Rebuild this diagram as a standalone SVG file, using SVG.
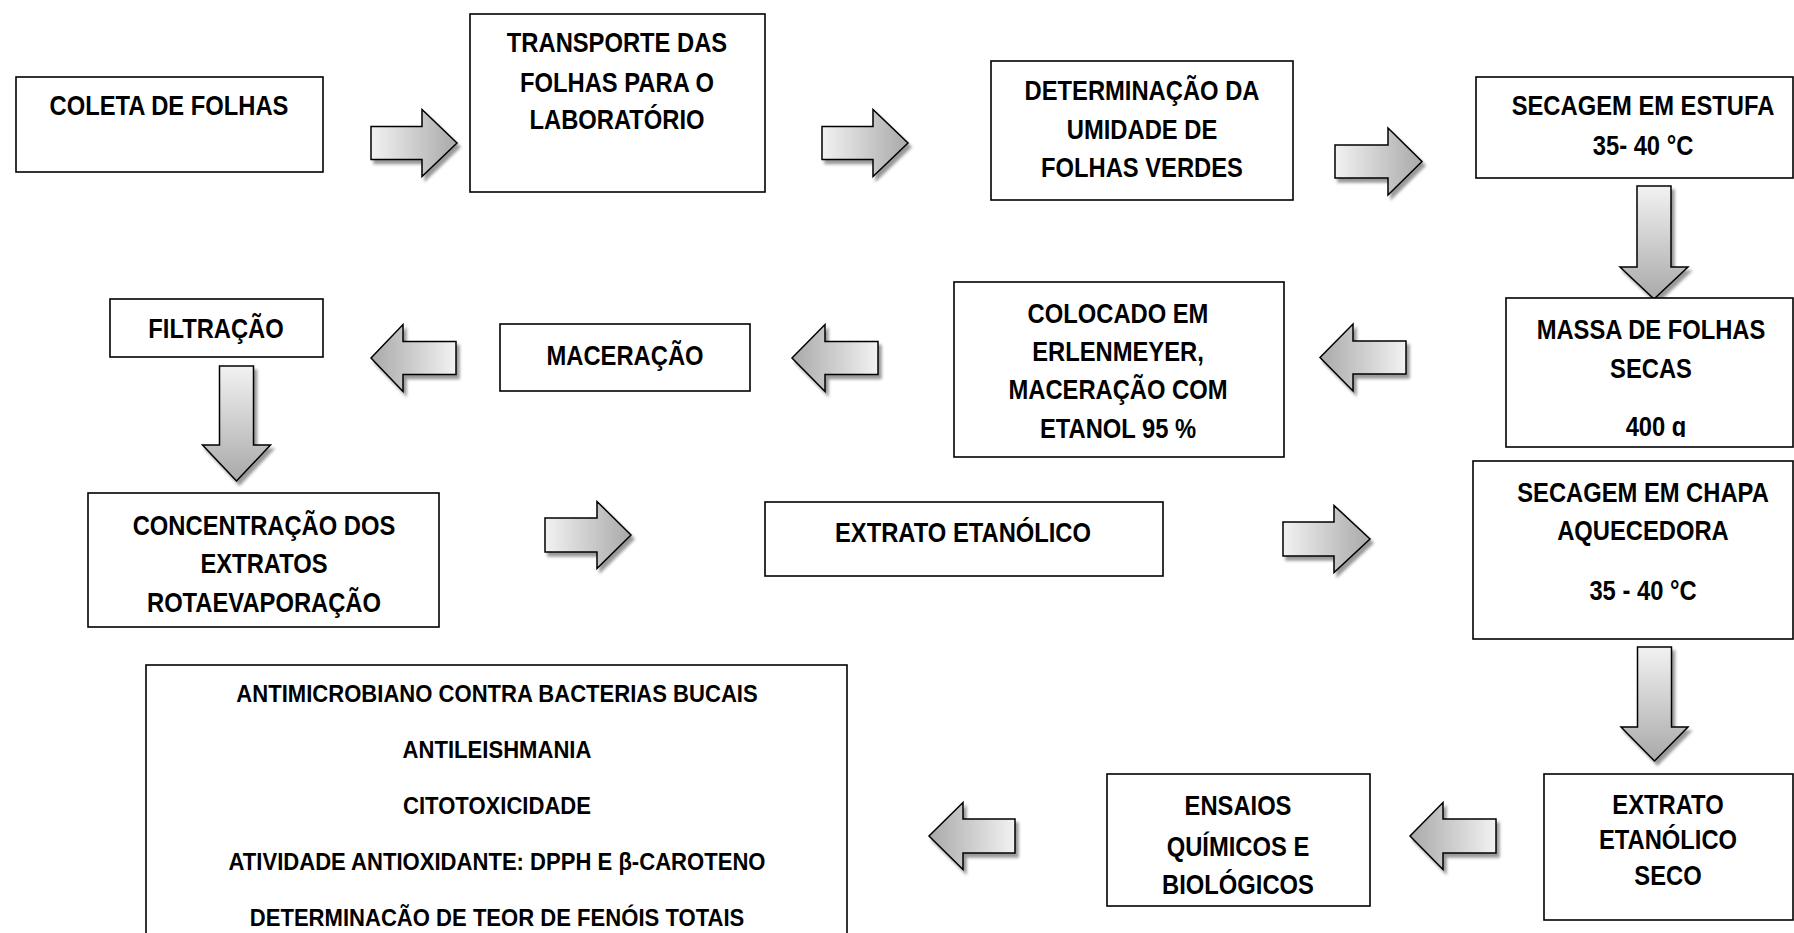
<svg xmlns="http://www.w3.org/2000/svg" width="1794" height="933" viewBox="0 0 1794 933">
<style>
.box{fill:#fff;stroke:#000;stroke-width:1.6}
.t{font-family:"Liberation Sans",Arial,sans-serif;font-weight:bold;font-size:27px;fill:#000;text-anchor:middle}
.s{font-size:24px}
.ar{stroke:#000;stroke-width:1.5;filter:url(#sh)}
.r{fill:url(#gR)}
.l{fill:url(#gL)}
.d{fill:url(#gD)}
</style>
<defs>
<linearGradient id="gR" x1="0" y1="0" x2="1" y2="0"><stop offset="0" stop-color="#f2f2f2"/><stop offset="1" stop-color="#a9a9a9"/></linearGradient>
<linearGradient id="gL" x1="1" y1="0" x2="0" y2="0"><stop offset="0" stop-color="#f2f2f2"/><stop offset="1" stop-color="#a9a9a9"/></linearGradient>
<linearGradient id="gD" x1="0" y1="0" x2="0" y2="1"><stop offset="0" stop-color="#f2f2f2"/><stop offset="1" stop-color="#a9a9a9"/></linearGradient>
<filter id="sh" x="-20%" y="-20%" width="150%" height="150%"><feDropShadow dx="3" dy="4" stdDeviation="1.5" flood-color="#000" flood-opacity="0.4"/></filter>
<clipPath id="clip400"><rect x="1506" y="298" width="288" height="139"/></clipPath>
</defs>
<rect width="1794" height="933" fill="#fff"/>

<g id="connectors">
<path class="ar r" d="M371,126.5 L422,126.5 L422,109.5 L457,143 L422,176.5 L422,159.5 L371,159.5 Z"/>
<path class="ar r" d="M822,126.5 L873,126.5 L873,109.5 L908,143 L873,176.5 L873,159.5 L822,159.5 Z"/>
<path class="ar r" d="M1335,145 L1388,145 L1388,128 L1422,161.5 L1388,195 L1388,178 L1335,178 Z"/>
<path class="ar d" d="M1637,186 L1671,186 L1671,267 L1688,267 L1654,299 L1620,267 L1637,267 Z"/>
<path class="ar l" d="M1406,341 L1353,341 L1353,324 L1320,357.5 L1353,391 L1353,374 L1406,374 Z"/>
<path class="ar l" d="M878,341.5 L825,341.5 L825,324.5 L792,358 L825,391.5 L825,374.5 L878,374.5 Z"/>
<path class="ar l" d="M456,341.5 L403,341.5 L403,324.5 L371,358 L403,391.5 L403,374.5 L456,374.5 Z"/>
<path class="ar d" d="M219.5,366 L253.5,366 L253.5,445 L270.5,445 L236.5,481 L202.5,445 L219.5,445 Z"/>
<path class="ar r" d="M545,518 L597,518 L597,501.5 L631,535 L597,568.5 L597,552 L545,552 Z"/>
<path class="ar r" d="M1283,522 L1334,522 L1334,505.5 L1370,539 L1334,572.5 L1334,556 L1283,556 Z"/>
<path class="ar d" d="M1637.5,647 L1671.5,647 L1671.5,727 L1688,727 L1654.5,761 L1621,727 L1637.5,727 Z"/>
<path class="ar l" d="M1496,819 L1443,819 L1443,802.5 L1410,836 L1443,869.5 L1443,853 L1496,853 Z"/>
<path class="ar l" d="M1015,819 L963,819 L963,802.5 L929,836 L963,869.5 L963,853 L1015,853 Z"/>
</g>

<g id="n1"><rect class="box" x="16" y="77" width="307" height="95"/>
<text class="t" transform="translate(169 115) scale(0.88 1)">COLETA DE FOLHAS</text></g>

<g id="n2"><rect class="box" x="470" y="14" width="295" height="178"/>
<text class="t" transform="translate(617 52) scale(0.88 1)">TRANSPORTE DAS</text>
<text class="t" transform="translate(617 92) scale(0.88 1)">FOLHAS PARA O</text>
<text class="t" transform="translate(617 129) scale(0.88 1)">LABORATÓRIO</text></g>

<g id="n3"><rect class="box" x="991" y="61" width="302" height="139"/>
<text class="t" transform="translate(1142 100) scale(0.88 1)">DETERMINAÇÃO DA</text>
<text class="t" transform="translate(1142 139) scale(0.88 1)">UMIDADE DE</text>
<text class="t" transform="translate(1142 177) scale(0.88 1)">FOLHAS VERDES</text></g>

<g id="n4"><rect class="box" x="1476" y="77" width="317" height="101"/>
<text class="t" transform="translate(1643 115) scale(0.88 1)">SECAGEM EM ESTUFA</text>
<text class="t" transform="translate(1643 155) scale(0.88 1)">35- 40 °C</text></g>

<g id="n5"><rect class="box" x="1506" y="298" width="287" height="149"/>
<text class="t" transform="translate(1651 339) scale(0.88 1)">MASSA DE FOLHAS</text>
<text class="t" transform="translate(1651 378) scale(0.88 1)">SECAS</text>
<g clip-path="url(#clip400)"><text class="t" transform="translate(1656 436) scale(0.88 1)">400 g</text></g></g>

<g id="n6"><rect class="box" x="954" y="282" width="330" height="175"/>
<text class="t" transform="translate(1118 323) scale(0.88 1)">COLOCADO EM</text>
<text class="t" transform="translate(1118 361) scale(0.88 1)">ERLENMEYER,</text>
<text class="t" transform="translate(1118 399) scale(0.88 1)">MACERAÇÃO COM</text>
<text class="t" transform="translate(1118 438) scale(0.88 1)">ETANOL 95 %</text></g>

<g id="n7"><rect class="box" x="500" y="324" width="250" height="67"/>
<text class="t" transform="translate(625 365) scale(0.88 1)">MACERAÇÃO</text></g>

<g id="n8"><rect class="box" x="110" y="299" width="213" height="58"/>
<text class="t" transform="translate(216 338) scale(0.88 1)">FILTRAÇÃO</text></g>

<g id="n9"><rect class="box" x="88" y="493" width="351" height="134"/>
<text class="t" transform="translate(264 535) scale(0.88 1)">CONCENTRAÇÃO DOS</text>
<text class="t" transform="translate(264 573) scale(0.88 1)">EXTRATOS</text>
<text class="t" transform="translate(264 612) scale(0.88 1)">ROTAEVAPORAÇÃO</text></g>

<g id="n10"><rect class="box" x="765" y="502" width="398" height="74"/>
<text class="t" transform="translate(963 542) scale(0.88 1)">EXTRATO ETANÓLICO</text></g>

<g id="n11"><rect class="box" x="1473" y="461" width="320" height="178"/>
<text class="t" transform="translate(1643 502) scale(0.88 1)">SECAGEM EM CHAPA</text>
<text class="t" transform="translate(1643 540) scale(0.88 1)">AQUECEDORA</text>
<text class="t" transform="translate(1643 600) scale(0.88 1)">35 - 40 °C</text></g>

<g id="n12"><rect class="box" x="1544" y="774" width="249" height="146"/>
<text class="t" transform="translate(1668 814) scale(0.88 1)">EXTRATO</text>
<text class="t" transform="translate(1668 849) scale(0.88 1)">ETANÓLICO</text>
<text class="t" transform="translate(1668 885) scale(0.88 1)">SECO</text></g>

<g id="n13"><rect class="box" x="1107" y="774" width="263" height="132"/>
<text class="t" transform="translate(1238 815) scale(0.88 1)">ENSAIOS</text>
<text class="t" transform="translate(1238 856) scale(0.88 1)">QUÍMICOS E</text>
<text class="t" transform="translate(1238 894) scale(0.88 1)">BIOLÓGICOS</text></g>

<g id="n14"><rect class="box" x="146" y="665" width="701" height="290"/>
<text class="t s" transform="translate(497 702) scale(0.92 1)">ANTIMICROBIANO CONTRA BACTERIAS BUCAIS</text>
<text class="t s" transform="translate(497 758) scale(0.92 1)">ANTILEISHMANIA</text>
<text class="t s" transform="translate(497 814) scale(0.92 1)">CITOTOXICIDADE</text>
<text class="t s" transform="translate(497 870) scale(0.92 1)">ATIVIDADE ANTIOXIDANTE: DPPH E β-CAROTENO</text>
<text class="t s" transform="translate(497 926) scale(0.92 1)">DETERMINACÃO DE TEOR DE FENÓIS TOTAIS</text></g>
</svg>
